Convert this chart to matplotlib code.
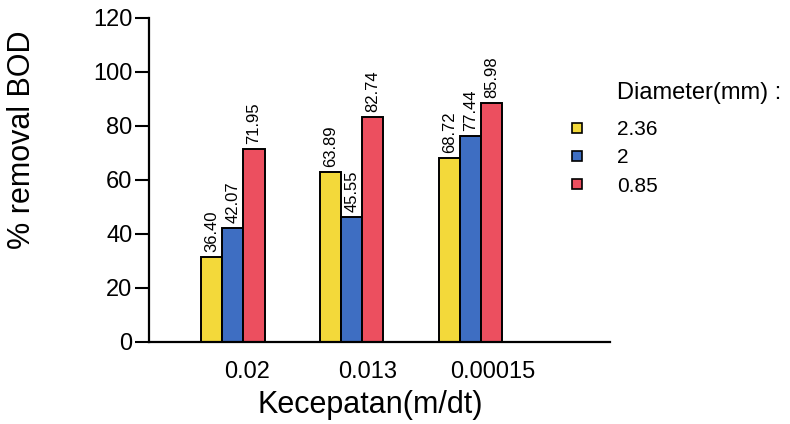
import matplotlib.pyplot as plt
import numpy as np
from matplotlib.lines import Line2D

plt.rcParams['font.family'] = ['Liberation Sans', 'DejaVu Sans']

# data
speeds = ["0.02", "0.013", "0.00015"]
diameters = ["2.36", "2", "0.85"]
h_236 = [31.5, 63.0, 68.1]
h_2 = [42.2, 46.3, 76.3]
h_085 = [71.5, 83.3, 88.5]
lab_236 = ["36.40", "63.89", "68.72"]
lab_2 = ["42.07", "45.55", "77.44"]
lab_085 = ["71.95", "82.74", "85.98"]

colors = ["#f3d93a", "#3e6ec2", "#ec4f5f"]

fig = plt.figure(figsize=(7.9, 4.24), dpi=100)
ax = fig.add_axes([149/790, 1-342/424, 461/790, 324/424])

x = np.arange(len(speeds))
w = 0.177
series = [(h_236, lab_236), (h_2, lab_2), (h_085, lab_085)]
for i, (vals, labs) in enumerate(series):
    xs = x + (i - 1) * w
    ax.bar(xs, vals, width=w, color=colors[i], edgecolor="black", linewidth=1.4)
    for xi, v, t in zip(xs, vals, labs):
        ax.text(xi, v + 1.8, t, rotation=90, ha="center", va="bottom", fontsize=12)

ax.set_xlim(-0.706, 3.17)
ax.set_ylim(0, 120)
ax.set_yticks([0, 20, 40, 60, 80, 100, 120])
ax.set_xticks(x + np.array([0.12, 0.13, 0.18]))
ax.set_xticklabels(speeds, fontsize=17)
ax.tick_params(axis="x", length=0, pad=14)
ax.tick_params(axis="y", length=10, width=1.5, labelsize=17, pad=2)

for s in ["top", "right"]:
    ax.spines[s].set_visible(False)
for s in ["left", "bottom"]:
    ax.spines[s].set_linewidth(1.6)

fig.text(22/790, 1-140/424, "% removal BOD", fontsize=22, rotation=90,
         ha="center", va="center")
fig.text(370/790, 1-405/424, "Kecepatan(m/dt)", fontsize=22,
         ha="center", va="center")

fig.text(617/790, 1-93/424, "Diameter(mm) :", fontsize=17, ha="left", va="center")
handles = [Line2D([], [], marker="s", linestyle="none", markersize=7,
                  markerfacecolor=c, markeredgecolor="black", markeredgewidth=1.2)
           for c in colors]
fig.legend(handles, diameters, loc="upper left", bbox_to_anchor=(569/790, 1-120/424),
           frameon=False, fontsize=15, handlelength=0.8, handletextpad=1.5,
           labelspacing=0.45, borderpad=0, borderaxespad=0)

fig.savefig("out.png", dpi=100)
